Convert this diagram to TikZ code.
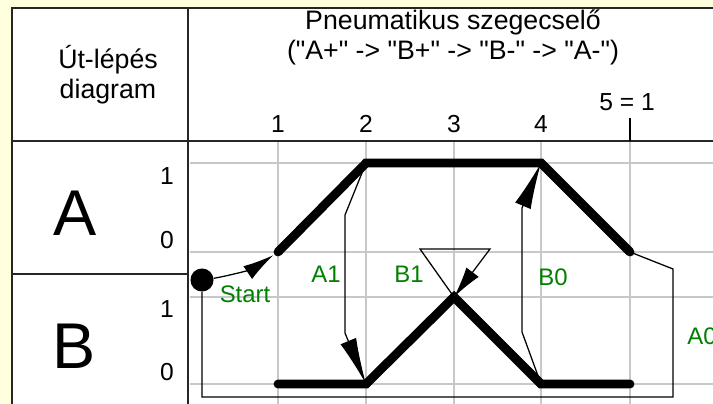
\documentclass[tikz,border=0pt]{standalone}
\usepackage{fontspec}
\setmainfont{Liberation Sans}
\usetikzlibrary{arrows.meta}
\definecolor{paper}{RGB}{255,255,222}
\definecolor{sigtext}{RGB}{0,128,0}
\definecolor{gridgray}{RGB}{200,200,200}
\newcommand\qq{\textquotedbl}
\tikzset{
  frame/.style={line width=1.4pt,black!85},
  gridline/.style={gridgray,line width=1.2pt},
  motion/.style={line width=6.3pt,line cap=round},
  signal/.style={line width=.9pt,-{Latex[length=33pt,width=12pt]}},
  shortsignal/.style={line width=.9pt,-{Latex[length=22pt,width=11pt]}},
  siglabel/.style={text=sigtext,inner sep=0pt,font=\fontsize{17}{20}\selectfont},
  plainlabel/.style={inner sep=0pt,font=\fontsize{17.5}{21}\selectfont}
}

\begin{document}
\begin{tikzpicture}[x=.025cm,y=-.025cm]
\useasboundingbox (0,0) rectangle (713,403);
\clip (0,0) rectangle (713,403);
\fill[paper] (0,0) rectangle (713,403);
\fill[white] (12,8) rectangle (720,410);
% grid
\foreach \y in {163,252,297,384}
  \draw[gridline] (190,\y) -- (720,\y);
\foreach \x in {278,366,454,541,630}
  \draw[gridline] (\x,141) -- (\x,410);
% table frame
\draw[frame] (12,410) -- (12,8) -- (720,8);
\draw[frame] (188,8) -- (188,410);
\draw[frame] (12,141) -- (720,141);
\draw[frame] (12,274) -- (188,274);
% header
\node[align=center,inner sep=0pt,font=\fontsize{19}{21.3}\selectfont] (head) at (108,75) {Út-lépés\\diagram};
\node[align=center,inner sep=0pt,font=\fontsize{19}{21.3}\selectfont] (title) at (453,37)
  {Pneumatikus szegecselő\\(\qq A+\qq\ -> \qq B+\qq\ -> \qq B-\qq\ -> \qq A-\qq)};
\foreach \x [count=\i] in {278,366,454,541,630} {
  \coordinate (a1-\i) at (\x,163);
  \coordinate (a0-\i) at (\x,252);
  \coordinate (b1-\i) at (\x,297);
  \coordinate (b0-\i) at (\x,384);
}
\foreach \x [count=\i] in {278,366,454,541}
  \node[plainlabel] (step\i) at (\x,124) {\i};
\node[plainlabel] (step5) at (627,102) {5 = 1};
\draw[line width=1.2pt] (630,118) -- (630,141);
% cylinders
\node[inner sep=0pt,font=\fontsize{46}{50}\selectfont] (cylA) at (75,213) {A};
\node[inner sep=0pt,font=\fontsize{46}{50}\selectfont] (cylB) at (74,346) {B};
\node[plainlabel] (la1) at (167,176) {1};
\node[plainlabel] (la0) at (167,240) {0};
\node[plainlabel] (lb1) at (167,309) {1};
\node[plainlabel] (lb0) at (167,372) {0};
% motion lines
\draw[motion] (a0-1) -- (a1-2) -- (a1-4) -- (a0-5);
\draw[motion] (b0-1) -- (b0-2) -- (b1-3) -- (b0-4) -- (b0-5);
% signals
\node[circle,fill,inner sep=0pt,minimum size=16.4pt] (start) at (202,280) {};
\draw[shortsignal,shorten >=4pt] (start) to[bend right=12] (a0-1);
\draw[signal] (a1-2) -- (345,215) -- (345,333) -- (b0-2);
\draw[shortsignal] (b1-3) -- (420,249) -- (490,249) -- (b1-3);
\draw[signal] (b0-4) -- (522,332) -- (522,208) -- (a1-4);
\draw[line width=.9pt] (a0-5) -- (673,269) -- (673,397) -- (202,397) -- (start);
\node[siglabel] (tstart) at (245,294) {Start};
\node[siglabel] (ta1) at (326,274) {A1};
\node[siglabel] (tb1) at (409,274) {B1};
\node[siglabel] (tb0) at (553,277) {B0};
\node[siglabel] (ta0) at (702,336) {A0};
\end{tikzpicture}
\end{document}
